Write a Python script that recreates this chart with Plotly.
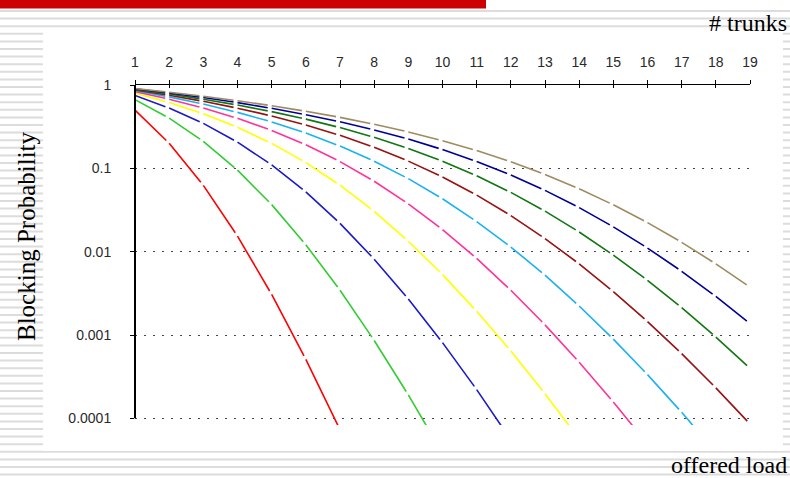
import plotly.graph_objects as go

# Number of trunks (x axis, shown along the top)
trunks = [1, 2, 3, 4, 5, 6, 7, 8, 9, 10, 11, 12, 13, 14, 15, 16, 17, 18, 19]

# Blocking probability per offered load (Erlangs), one value per trunk count from 1 up
load_1 = [0.5, 0.2, 0.0625, 0.01538, 0.003068, 0.000511, 0.0000730]
load_2 = [0.6667, 0.4, 0.2105, 0.09524, 0.03670, 0.01208, 0.003441, 0.0008595,
          0.0001910, 0.0000382]
load_3 = [0.75, 0.5294, 0.3462, 0.2061, 0.1101, 0.05216, 0.02186, 0.008132,
          0.002704, 0.0008104, 0.0002210, 0.0000552]
load_4 = [0.8, 0.6154, 0.4507, 0.3107, 0.1991, 0.1172, 0.06275, 0.03042, 0.01334,
          0.005308, 0.001926, 0.0006417, 0.0001974, 0.0000564]
load_5 = [0.8333, 0.6757, 0.5297, 0.3983, 0.2849, 0.1918, 0.1205, 0.07005, 0.03746,
          0.01838, 0.008288, 0.003441, 0.001322, 0.0004719, 0.0001573, 0.0000491]
load_6 = [0.8571, 0.72, 0.5902, 0.4696, 0.3604, 0.2649, 0.1851, 0.1219, 0.07514,
          0.04314, 0.02299, 0.01137, 0.005218, 0.002231, 0.0008917, 0.0003343,
          0.0001180, 0.0000393]
load_7 = [0.875, 0.7538, 0.6375, 0.5273, 0.4247, 0.3313, 0.2489, 0.1788, 0.1221,
          0.07874, 0.04772, 0.02708, 0.01437, 0.007135, 0.003319, 0.001450,
          0.0005966, 0.0002320, 0.0000855]
load_8 = [0.8889, 0.7805, 0.6755, 0.5746, 0.4790, 0.3898, 0.3082, 0.2356, 0.1731,
          0.1217, 0.08129, 0.05141, 0.03067, 0.01722, 0.009101, 0.004530, 0.002127,
          0.0009445, 0.0003975]
load_9 = [0.9, 0.8020, 0.7064, 0.6138, 0.5249, 0.4405, 0.3616, 0.2892, 0.2243,
          0.1680, 0.1208, 0.08309, 0.05439, 0.03379, 0.01987, 0.01105, 0.005818,
          0.002900, 0.001372]
load_10 = [0.9091, 0.8197, 0.7321, 0.6467, 0.5640, 0.4845, 0.4090, 0.3383, 0.2732,
           0.2146, 0.1632, 0.1197, 0.08434, 0.05682, 0.03650, 0.02230, 0.01295,
           0.007143, 0.003745]

series = [load_1, load_2, load_3, load_4, load_5, load_6, load_7, load_8, load_9, load_10]
colors = ["#ff0000", "#33cc33", "#1a1acc", "#ffff00", "#ff3399",
          "#1ab2f0", "#991111", "#117711", "#000099", "#a08a60"]

# Y ticks
y_tickvals = [0.0001, 0.001, 0.01, 0.1, 1]
y_ticktext = ["0.0001", "0.001", "0.01", "0.1", "1"]
Y_LOG_MIN, Y_LOG_MAX = -4.08, 0.0

W, H = 790, 478
ML, MR, MT, MB = 135, 40, 85, 53
PW, PH = W - ML - MR, H - MT - MB


def px_x(px):
    return (px - ML) / PW


def px_y(py):
    return (H - MB - py) / PH


fig = go.Figure()

# Each curve is drawn segment by segment so that a small gap sits at every data point
for vals, col in zip(series, colors):
    for i in range(len(vals) - 1):
        fig.add_trace(go.Scatter(
            x=[trunks[i + 1], trunks[i]],
            y=[vals[i + 1], vals[i]],
            mode="lines",
            line=dict(color=col, width=1.6, dash="0px,4px,2000px"),
            hoverinfo="skip",
            showlegend=False,
        ))

# helper trace so the tick-only overlay axis gets drawn
fig.add_trace(go.Scatter(x=[trunks[0]], y=[y_tickvals[-1]], xaxis="x2", mode="markers",
                         marker=dict(opacity=0), hoverinfo="skip", showlegend=False))

tick_font = dict(family="Liberation Sans, Arial, sans-serif", size=14, color="#2a2a2a")

shapes = []
# striped slide background
k = 0
while 11 + 7.6 * k < H:
    yy = 11 + 7.6 * k
    shapes.append(dict(type="line", xref="paper", yref="paper",
                       x0=px_x(0), x1=px_x(W), y0=px_y(yy), y1=px_y(yy),
                       line=dict(color="#dcdcdc", width=2), layer="below"))
    k += 1
# white chart panel
shapes.append(dict(type="rect", xref="paper", yref="paper",
                   x0=px_x(43), x1=px_x(783), y0=px_y(451), y1=px_y(31),
                   fillcolor="white", line=dict(width=0), layer="below"))
# red title bar
shapes.append(dict(type="rect", xref="paper", yref="paper",
                   x0=px_x(0), x1=px_x(486), y0=px_y(8.5), y1=px_y(0),
                   fillcolor="#cc0000", line=dict(width=0), layer="above"))
# value axis line, running from the 0.0001 tick up to 1
axis_bottom = (-4 - Y_LOG_MIN) / (Y_LOG_MAX - Y_LOG_MIN)
shapes.append(dict(type="line", xref="paper", yref="paper", x0=0, x1=0,
                   y0=axis_bottom, y1=1,
                   line=dict(color="black", width=2), layer="above"))

serif = "Liberation Serif, Times New Roman, serif"
annotations = [
    dict(text="# trunks", xref="paper", yref="paper", x=px_x(789), y=px_y(23),
         xanchor="right", yanchor="middle", showarrow=False,
         font=dict(family=serif, size=24, color="black")),
    dict(text="offered load", xref="paper", yref="paper", x=px_x(789), y=px_y(465),
         xanchor="right", yanchor="middle", showarrow=False,
         font=dict(family=serif, size=24, color="black")),
    dict(text="Blocking Probability", xref="paper", yref="paper", x=px_x(26), y=px_y(236),
         xanchor="center", yanchor="middle", textangle=-90, showarrow=False,
         font=dict(family=serif, size=25, color="black")),
]

fig.update_layout(
    width=W, height=H, autosize=False,
    margin=dict(l=ML, r=MR, t=MT, b=MB, pad=0),
    template="none",
    paper_bgcolor="white", plot_bgcolor="white",
    showlegend=False,
    shapes=shapes,
    annotations=annotations,
    xaxis=dict(range=[1, 19], side="top", tickvals=trunks, ticktext=[str(t) for t in trunks],
               showline=True, linecolor="black", linewidth=1,
               ticks="outside", ticklen=4, tickwidth=1, tickcolor="black",
               showgrid=False, zeroline=False, tickfont=tick_font,
               ticklabelstandoff=7, automargin=False),
    xaxis2=dict(range=[1, 19], overlaying="x", side="top", anchor="y", tickvals=trunks,
                ticks="inside", ticklen=3, tickwidth=1, tickcolor="black",
                showticklabels=False, showline=False, showgrid=False, zeroline=False,
                automargin=False),
    yaxis=dict(type="log", range=[Y_LOG_MIN, Y_LOG_MAX], tickvals=y_tickvals,
               ticktext=y_ticktext,
               ticks="outside", ticklen=4, tickwidth=1, tickcolor="black",
               showline=False, zeroline=False,
               showgrid=True, gridcolor="#444444", gridwidth=1, griddash="2px,7px",
               tickfont=tick_font, ticklabelstandoff=16, automargin=False),
)

fig.write_html("out.html")
